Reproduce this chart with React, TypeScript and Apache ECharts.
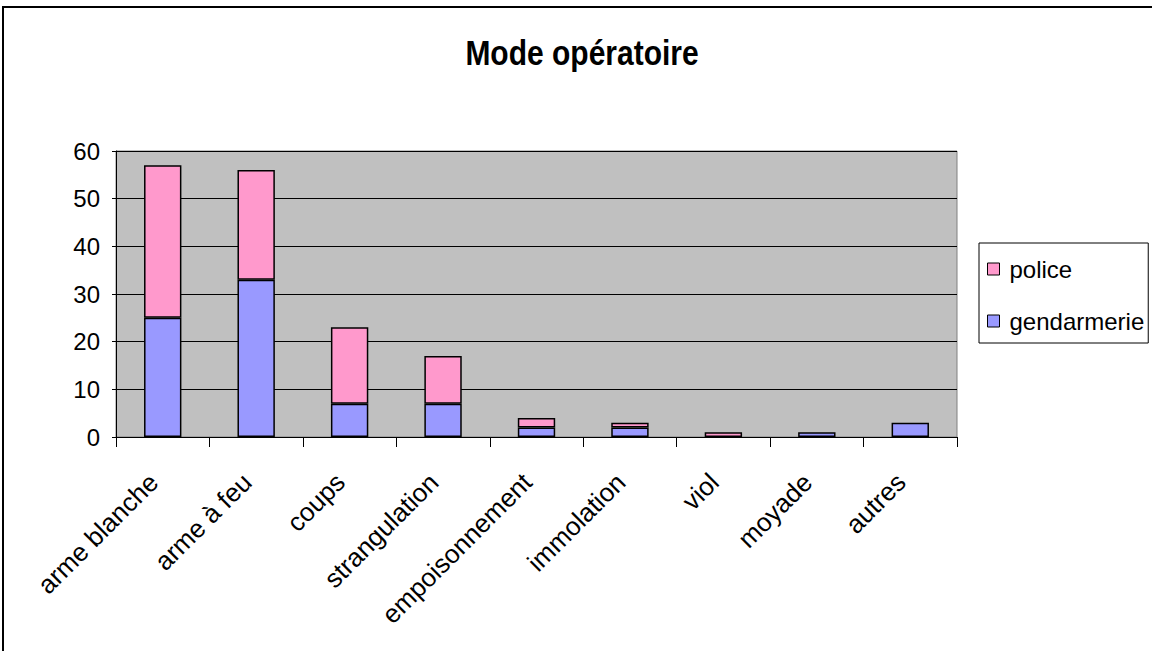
import React, { useEffect, useRef } from "react";
import * as echarts from "echarts";

const categories = ["arme blanche", "arme à feu", "coups", "strangulation", "empoisonnement", "immolation", "viol", "moyade", "autres"];
const gendarmerie = [25, 33, 7, 7, 2, 2, 0, 1, 3];
const police = [32, 23, 16, 10, 2, 1, 1, 0, 0];
const yTicks = { min: 0, max: 60, interval: 10 };

export default function App() {
  const ref = useRef<HTMLDivElement>(null);
  useEffect(() => {
    const chart = echarts.init(ref.current!, null, { renderer: "svg" });
    const font = "'Liberation Sans', Arial, sans-serif";
    const noZero = (arr: number[]) => arr.map((v) => (v === 0 ? null : v));
    chart.setOption({
      animation: false,
      backgroundColor: "#ffffff",
      graphic: [
        {
          type: "rect",
          shape: { x: 3, y: 7, width: 1160, height: 660 },
          style: { fill: "none", stroke: "#000", lineWidth: 2 },
          silent: true,
        },
        {
          type: "text",
          x: 582,
          y: 53,
          scaleY: 1.15,
          style: {
            text: "Mode opératoire",
            font: `bold 30px ${font}`,
            fill: "#000",
            textAlign: "center",
            textVerticalAlign: "middle",
          },
        },
      ],
      legend: {
        orient: "vertical",
        left: 979,
        top: 243,
        padding: [14, 4, 10, 8],
        itemGap: 28,
        itemWidth: 12,
        itemHeight: 12,
        icon: "rect",
        borderColor: "#000",
        borderWidth: 1,
        backgroundColor: "#fff",
        data: ["police", "gendarmerie"],
        textStyle: { fontFamily: font, fontSize: 24, color: "#000", padding: [0, 0, 0, 5] },
        itemStyle: { borderColor: "#000", borderWidth: 1 },
      },
      grid: {
        left: 116,
        top: 151,
        width: 841,
        height: 286,
        show: true,
        backgroundColor: "#C0C0C0",
        borderColor: "#808080",
        borderWidth: 1,
      },
      xAxis: {
        type: "category",
        data: categories,
        axisLine: { lineStyle: { color: "#000", width: 1 } },
        axisTick: { show: true, length: 10, lineStyle: { color: "#000" } },
        axisLabel: {
          rotate: 45,
          margin: 50,
          verticalAlign: "bottom",
          fontFamily: font,
          fontSize: 26,
          color: "#000",
        },
      },
      yAxis: {
        type: "value",
        min: yTicks.min,
        max: yTicks.max,
        interval: yTicks.interval,
        axisLine: { show: true, lineStyle: { color: "#000" } },
        axisTick: { show: true, length: 4, lineStyle: { color: "#000" } },
        axisLabel: { margin: 16, fontFamily: font, fontSize: 24, color: "#000" },
        splitLine: { show: true, lineStyle: { color: "#000", width: 1 } },
      },
      series: [
        {
          name: "gendarmerie",
          type: "bar",
          stack: "total",
          data: noZero(gendarmerie),
          barWidth: "40%",
          itemStyle: { color: "#9999FF", borderColor: "#000", borderWidth: 1.5 },
        },
        {
          name: "police",
          type: "bar",
          stack: "total",
          data: noZero(police),
          barWidth: "40%",
          itemStyle: { color: "#FF99CC", borderColor: "#000", borderWidth: 1.5 },
        },
      ],
    });
    return () => chart.dispose();
  }, []);
  return (
    <div
      ref={ref}
      style={{ position: "fixed", left: 0, top: 0, width: 1152, height: 651 }}
    />
  );
}
